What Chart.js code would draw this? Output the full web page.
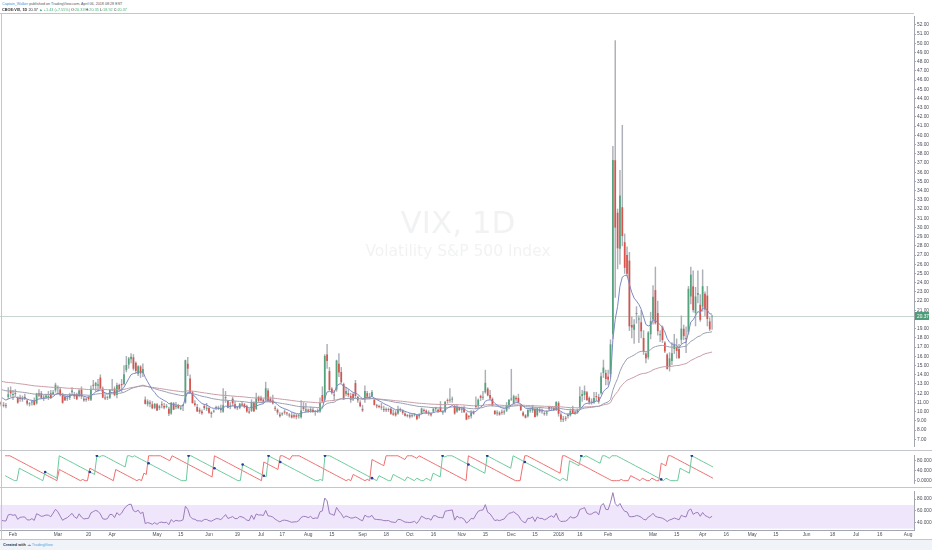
<!DOCTYPE html>
<html><head><meta charset="utf-8">
<script src="https://cdn.jsdelivr.net/npm/chart.js@4/dist/chart.umd.min.js"></script>
<style>
html,body{margin:0;padding:0;background:#fff;width:932px;height:550px;overflow:hidden;font-family:"Liberation Sans",Arial,sans-serif;}
.pane{position:absolute;left:0;width:932px;}
.ln{position:absolute;background:#c3c6cc;z-index:5;}
.txt{position:absolute;white-space:nowrap;transform:scale(0.5);transform-origin:0 0;z-index:6;}
#foot{position:absolute;left:0;top:539px;width:932px;height:11px;background:#f0f3f7;}
</style></head>
<body>
<div class="txt" style="left:2px;top:1px;font-size:7.4px;color:#555"><span style="color:#3d8de0">Captain_Walker</span> published on TradingView.com, April 06, 2018 08:28 EST</div>
<div class="txt" style="left:2px;top:7px;font-size:7.6px;color:#333"><b>CBOE:VIX, 1D</b> 20.37 <span style="color:#4caf7a">▲ +1.43 (+7.55%)</span> O:<span style="color:#4caf7a">20.33</span> H:<span style="color:#4caf7a">20.35</span> L:<span style="color:#4caf7a">18.92</span> C:<span style="color:#4caf7a">20.37</span></div>

<div class="pane" style="top:13px;height:437px"><canvas id="c1"></canvas></div>
<div class="pane" style="top:451px;height:36px"><canvas id="c2"></canvas></div>
<div class="pane" style="top:488px;height:51px"><canvas id="c3"></canvas></div>

<div class="ln" style="left:0;top:13px;width:914px;height:1px"></div>
<div class="ln" style="left:1px;top:13px;width:1px;height:526px"></div>
<div class="ln" style="left:0;top:450px;width:932px;height:1px"></div>
<div class="ln" style="left:0;top:487px;width:932px;height:1px"></div>
<div class="ln" style="left:0;top:539px;width:932px;height:1px"></div>

<div id="foot"></div>
<div class="txt" style="left:3px;top:542px;font-size:7.6px;color:#333"><b>Created with</b> <span style="color:#4aa3df">&#9729; TradingView</span></div>

<script>
// ---------------- data ----------------
const holidays = ['2017-02-20','2017-04-14','2017-05-29','2017-07-04','2017-09-04','2017-11-23','2017-12-25','2018-01-01','2018-01-15','2018-02-19','2018-03-30'];
const firstDate = '2017-01-25', lastDataDate = '2018-04-06', lastAxisDate = '2018-08-03';

// warm-up bars before the visible range (Dec 22 2016 - Jan 24 2017)
const warmHighs  = [11.8,11.7,12.3,13.1,13.9,14.7,14.2,12.8,12.1,11.9,11.9,11.8,12.0,12.6,11.7,12.8,12.8,13.0,12.7,12.1,11.9];
const warmLows   = [11.2,11.0,11.5,12.0,12.7,13.2,12.5,11.6,11.4,11.0,11.2,11.2,10.9,11.2,11.0,11.5,11.7,12.1,11.4,11.4,11.0];
const warmCloses = [11.44,11.44,11.99,12.95,13.37,14.04,12.85,11.85,11.67,11.32,11.56,11.49,11.26,11.54,11.23,11.87,12.48,12.78,11.54,11.77,11.07];

const opens = [
11.0,10.75,10.7,11.6,12.3,
11.8,12.0,11.5,11.5,11.3,11.6,11.2,10.8,11.0,11.2,10.9,12.0,12.0,11.5,11.6,11.6,12.0,11.9,12.3,
12.6,12.4,11.8,11.6,11.4,11.5,12.1,11.9,11.9,11.7,12.4,11.4,11.3,11.6,11.3,12.9,12.8,12.8,13.7,12.5,11.5,11.5,11.5,
12.3,12.5,11.8,12.9,13.0,13.0,14.5,15.1,15.7,15.9,15.3,14.1,14.9,14.2,11.3,10.8,11.0,10.8,10.4,
10.8,10.4,10.8,10.6,10.5,10.3,9.8,10.9,10.5,10.6,10.3,10.6,11.0,15.2,13.6,12.1,10.9,10.5,10.2,10.0,10.6,10.3,
10.4,9.9,10.0,10.4,10.3,10.3,10.0,11.5,11.2,10.5,11.4,10.8,10.4,10.4,10.8,10.8,10.6,10.0,10.1,11.0,10.3,11.6,
11.5,11.3,11.3,12.3,11.4,11.2,10.4,10.2,9.7,9.7,10.0,9.8,9.6,9.6,9.6,9.6,9.5,9.4,10.5,10.1,
10.1,10.1,10.2,10.0,10.1,10.0,11.8,11.3,16.2,14.4,12.5,11.8,12.4,15.2,14.3,13.0,11.9,12.0,11.7,11.9,13.1,11.6,11.0,
10.3,11.3,12.0,11.5,11.7,11.3,10.6,10.6,10.5,10.3,10.2,10.2,10.3,9.8,9.9,9.8,10.2,10.1,9.8,9.6,
9.6,9.5,9.6,9.6,9.5,9.8,10.1,10.1,9.8,9.7,10.0,10.3,10.2,10.5,9.9,10.0,11.2,11.2,11.3,10.6,10.0,10.4,
10.2,10.3,9.8,9.5,9.5,10.0,10.7,10.6,11.7,11.5,12.1,12.5,11.8,11.4,10.1,9.8,9.9,9.9,9.9,10.1,10.7,
11.3,10.9,11.5,11.5,10.7,9.9,9.6,9.5,10.1,10.1,10.3,9.6,10.2,10.0,9.8,9.8,10.5,10.4,10.4,10.2,
10.95,9.7,9.1,9.3,9.6,9.6,10.3,9.9,9.9,10.4,11.7,11.8,12.1,11.5,11.0,11.0,11.6,11.6,12.0,14.2,14.2,
13.8,14.1,18.4,37.3,31.6,27.7,32.2,28.4,27.0,26.4,19.4,18.9,20.6,20.0,19.7,18.0,16.3,15.9,18.4,
20.0,23.2,20.7,18.3,19.2,17.5,16.2,14.9,15.5,16.8,17.0,16.8,17.8,19.0,18.0,18.6,22.5,23.6,20.7,22.7,21.6,
21.4,22.8,22.6,19.8,20.33];
const highs = [
11.1,11.0,10.9,12.6,12.7,
12.3,12.4,11.6,11.8,11.7,11.9,11.3,11.0,11.2,11.5,12.0,12.4,12.2,11.8,11.9,12.2,12.3,12.3,13.1,
12.8,12.6,12.0,11.8,11.8,12.0,12.6,12.1,12.0,12.4,12.7,11.6,11.5,11.7,12.8,13.4,13.2,13.5,14.0,12.7,11.8,11.7,12.4,
13.5,12.7,13.1,13.0,13.5,15.0,16.0,15.9,16.3,16.2,15.4,15.0,15.0,15.2,11.6,11.3,11.2,11.1,10.9,
10.9,10.7,11.1,10.9,10.8,10.5,11.0,11.0,11.0,10.8,10.6,10.8,15.6,15.9,14.0,12.2,11.2,10.8,10.4,10.2,10.8,10.9,
10.5,10.0,10.2,10.6,10.6,10.7,12.5,12.2,11.2,11.0,11.6,11.1,10.5,10.9,11.0,10.9,10.7,10.3,11.3,11.1,12.0,11.7,
11.7,11.4,13.2,12.5,11.6,11.8,10.6,10.3,9.9,9.9,10.2,9.9,9.8,9.9,9.8,9.7,9.7,11.2,11.0,10.9,
10.3,10.5,10.4,10.1,10.3,11.5,12.7,16.2,17.3,14.8,12.6,12.3,15.6,16.3,14.8,13.1,12.6,12.4,12.0,12.0,13.4,11.7,11.2,
10.7,12.8,12.2,12.0,12.3,11.3,10.8,10.7,10.9,10.6,10.4,10.4,10.4,10.2,10.1,10.6,10.4,10.2,9.9,9.7,
9.8,9.7,9.8,9.7,9.8,10.4,10.3,10.2,10.1,9.9,10.4,10.5,10.3,11.1,10.1,11.1,11.4,12.5,11.6,10.7,10.7,10.5,
10.5,10.6,9.9,9.6,10.1,10.1,11.6,11.4,11.8,12.2,14.5,12.6,12.3,11.5,10.1,10.1,10.0,10.2,10.2,11.0,11.3,
14.6,11.8,11.7,11.9,10.8,10.0,9.7,10.3,10.4,10.7,10.4,10.4,10.5,10.3,10.0,10.1,10.6,10.5,10.5,11.1,
11.1,9.9,9.5,9.5,9.8,10.3,10.6,10.1,10.3,12.7,12.3,12.8,12.2,11.6,11.4,12.1,12.1,11.9,14.2,15.6,14.5,
14.5,17.8,38.8,50.3,32.0,36.2,41.1,29.3,27.9,27.3,20.3,20.0,21.4,20.4,21.0,18.8,16.4,18.7,20.8,
23.7,25.7,22.0,18.8,19.3,17.6,16.3,16.4,17.5,18.4,17.9,17.3,20.4,19.4,19.2,23.6,25.7,25.3,23.5,25.3,22.7,
25.4,23.0,23.6,20.2,20.4];
const lows = [
10.63,10.5,10.4,11.4,11.6,
11.3,11.7,10.9,11.1,11.1,11.3,10.7,10.6,10.7,10.7,10.8,11.6,11.4,11.2,11.4,11.3,11.4,11.8,12.1,
11.9,11.7,10.9,11.2,11.2,11.3,11.9,11.4,11.3,11.6,11.4,11.1,11.1,11.2,11.2,12.4,12.2,12.2,12.5,11.5,11.3,11.3,11.4,
12.3,11.7,11.5,12.2,12.1,12.9,14.3,14.7,15.3,14.5,14.2,13.9,13.7,13.8,10.8,10.6,10.5,10.3,10.3,
10.1,10.2,10.4,10.3,10.4,9.56,9.7,10.2,10.3,10.3,10.2,10.1,10.9,13.9,12.0,10.9,10.6,10.0,9.8,9.7,10.2,10.1,
9.8,9.37,9.9,10.2,10.2,9.9,9.9,11.0,10.4,10.3,10.6,10.3,10.2,10.3,10.6,10.4,9.9,9.8,10.0,10.0,10.2,11.0,
11.1,10.9,11.2,11.1,11.0,10.8,10.1,9.7,9.4,9.6,9.7,9.6,9.4,9.3,9.3,9.2,9.3,9.3,10.1,9.9,
9.9,9.9,9.9,9.6,9.9,9.9,11.0,11.2,14.7,12.3,11.9,11.3,12.2,13.8,13.1,11.3,11.7,11.6,11.0,11.2,11.5,11.0,10.5,
10.0,11.0,11.4,11.4,11.6,10.7,10.4,10.4,10.2,10.0,10.0,10.0,9.7,9.6,9.5,9.7,10.0,9.7,9.5,9.4,
9.3,9.4,9.5,9.1,9.3,9.7,9.9,9.8,9.6,9.5,9.9,10.1,9.9,10.0,9.7,9.9,10.9,11.0,11.0,9.7,9.9,10.1,
9.9,9.9,9.1,9.2,9.3,9.7,10.3,10.4,11.2,11.3,12.0,11.7,11.3,10.6,9.7,9.6,9.6,9.7,9.7,10.0,10.3,
11.2,10.8,11.1,10.9,10.1,9.5,9.3,9.4,9.9,9.9,9.4,9.5,9.9,9.8,9.6,9.6,10.1,10.1,10.1,10.1,
9.5,8.9,8.9,9.0,9.3,9.5,9.8,9.7,9.8,10.3,11.1,11.3,11.2,10.8,10.8,10.9,11.2,10.9,11.9,13.7,12.9,
12.9,13.8,17.9,22.4,25.5,26.0,28.0,25.0,24.7,18.8,18.0,17.4,19.6,17.5,18.0,16.2,15.3,15.7,17.9,
19.5,19.5,18.3,17.6,17.5,16.4,14.6,14.4,15.1,16.3,15.8,15.8,17.4,17.8,16.4,18.4,21.7,20.8,19.3,21.8,19.8,
20.9,20.4,19.3,18.8,18.92];
const closes = [
10.81,10.63,10.58,11.88,11.99,
11.81,11.93,10.97,11.37,11.45,11.45,10.88,10.85,11.07,10.74,11.97,11.76,11.49,11.57,11.74,11.71,11.47,12.09,12.92,
12.54,11.81,10.96,11.24,11.45,11.86,12.30,11.66,11.35,12.30,11.63,11.21,11.28,11.34,12.47,12.81,13.12,12.96,12.50,11.53,11.42,11.54,12.37,
12.38,11.79,12.89,12.39,12.87,14.05,15.07,15.77,15.96,14.66,14.42,14.93,14.15,14.63,10.84,11.13,10.85,10.36,10.82,
10.11,10.59,10.68,10.46,10.57,9.77,10.96,10.21,10.60,10.40,10.42,10.65,15.59,14.66,12.04,10.93,10.72,10.02,9.99,9.81,10.38,10.41,
9.89,9.75,10.07,10.45,10.39,10.16,10.70,11.46,10.42,10.64,10.90,10.38,10.37,10.86,10.75,10.48,10.02,9.90,11.06,10.03,11.44,11.18,
11.22,11.07,12.54,11.19,11.11,10.89,10.30,9.90,9.51,9.82,9.89,9.79,9.58,9.36,9.43,9.43,9.60,10.11,10.29,10.26,
10.09,10.28,9.95,10.03,10.00,10.96,11.11,16.04,15.51,12.33,12.04,11.74,15.55,14.26,13.19,11.35,12.25,11.78,11.28,11.32,11.70,11.22,10.59,
10.13,12.23,11.63,11.55,12.12,10.73,10.58,10.50,10.44,10.17,10.15,10.18,9.78,9.67,9.59,10.21,10.17,9.87,9.55,9.51,
9.45,9.51,9.63,9.19,9.65,10.33,10.08,9.85,9.91,9.61,10.31,10.31,10.07,10.05,9.97,11.07,11.16,11.23,11.30,9.80,10.50,10.18,
10.20,9.93,9.14,9.40,9.89,9.78,10.50,11.29,11.50,11.59,13.13,11.76,11.43,10.65,9.73,9.88,9.67,9.87,10.03,10.70,11.28,
11.43,11.68,11.33,11.02,10.16,9.58,9.34,10.18,10.18,10.49,9.42,10.37,10.03,10.03,9.72,9.90,10.25,10.47,10.18,11.04,
9.77,9.15,9.22,9.22,9.52,10.08,9.82,9.88,10.16,11.66,11.91,12.22,11.27,11.03,11.10,11.47,11.58,11.08,13.84,14.79,13.54,
13.47,17.31,37.32,29.98,27.73,33.46,29.06,25.61,24.97,19.26,19.13,19.46,20.60,20.02,18.72,16.49,15.80,18.59,19.85,
22.47,19.59,18.73,18.36,17.76,16.54,14.64,15.78,16.35,17.23,16.59,15.80,19.02,18.20,17.86,23.34,24.87,21.03,22.50,22.87,19.97,
23.62,21.10,20.06,18.94,20.37];

// moving-average starting levels read at the left edge of the picture
const emaPeriods = [10, 50, 100];
const emaStartLevels = [null, 12.4, 13.3];
const rsiPeriod = 14, aroonPeriod = 20;

const priceTicks = []; for (let v = 7; v <= 52; v++) priceTicks.push(v);
const aroonTicks = [0, 40, 80];
const rsiTicks = [40, 60, 80];
const rsiBand = [30, 70];

const tickLabels = [['2017-02-01','Feb'],['2017-03-01','Mar'],['2017-03-20','20'],['2017-04-03','Apr'],['2017-05-01','May'],['2017-05-15','15'],['2017-06-01','Jun'],['2017-06-19','19'],['2017-07-03','Jul'],['2017-07-17','17'],['2017-08-01','Aug'],['2017-08-15','15'],['2017-09-01','Sep'],['2017-09-18','18'],['2017-10-02','Oct'],['2017-10-16','16'],['2017-11-01','Nov'],['2017-11-15','15'],['2017-12-01','Dec'],['2017-12-15','15'],['2018-01-02','2018'],['2018-01-16','16'],['2018-02-01','Feb'],['2018-03-01','Mar'],['2018-03-15','15'],['2018-04-02','Apr'],['2018-04-16','16'],['2018-05-01','May'],['2018-05-15','15'],['2018-06-01','Jun'],['2018-06-18','18'],['2018-07-02','Jul'],['2018-07-16','16'],['2018-08-01','Aug']];

// ---------------- categories ----------------
const dates = [];
{
  const d = new Date(firstDate + 'T00:00:00Z'), end = new Date(lastAxisDate + 'T00:00:00Z');
  while (d <= end) {
    const s = d.toISOString().slice(0, 10), dow = d.getUTCDay();
    if (dow !== 0 && dow !== 6 && !(s <= lastDataDate && holidays.includes(s))) dates.push(s);
    d.setUTCDate(d.getUTCDate() + 1);
  }
}
const N = dates.length, n = closes.length;
const labelMap = Object.fromEntries(tickLabels);
const pad = arr => arr.concat(new Array(N - arr.length).fill(null));

// ---------------- indicators from the bars ----------------
const allC = warmCloses.concat(closes), allH = warmHighs.concat(highs), allL = warmLows.concat(lows), W = warmCloses.length;
function ema(period, start) {
  const a = 2 / (period + 1), out = [];
  if (start == null) {
    let e = allC[0];
    for (let i = 1; i < allC.length; i++) { e += a * (allC[i] - e); if (i >= W) out.push(e); }
    return out;
  }
  let e = start; out.push(e);
  for (let i = 1; i < n; i++) { e += a * (closes[i] - e); out.push(e); }
  return out;
}
const emas = emaPeriods.map((p, k) => ema(p, emaStartLevels[k]));

const rsi = [];
{
  let g = 0, l = 0;
  for (let i = 1; i <= rsiPeriod; i++) { const ch = allC[i] - allC[i - 1]; if (ch > 0) g += ch; else l -= ch; }
  g /= rsiPeriod; l /= rsiPeriod;
  for (let i = rsiPeriod + 1; i < allC.length; i++) {
    const ch = allC[i] - allC[i - 1];
    g = (g * (rsiPeriod - 1) + Math.max(ch, 0)) / rsiPeriod;
    l = (l * (rsiPeriod - 1) + Math.max(-ch, 0)) / rsiPeriod;
    if (i >= W) rsi.push(100 - 100 / (1 + g / l));
  }
}
const aroonUp = [], aroonDn = [];
for (let i = W; i < allC.length; i++) {
  let hi = -1, lo = -1;
  for (let j = i - aroonPeriod; j <= i; j++) {
    if (hi < 0 || allH[j] >= allH[hi]) hi = j;
    if (lo < 0 || allL[j] <= allL[lo]) lo = j;
  }
  aroonUp.push(100 * (aroonPeriod - (i - hi)) / aroonPeriod);
  aroonDn.push(100 * (aroonPeriod - (i - lo)) / aroonPeriod);
}
const crossDots = aroonUp.map((u, i) => {
  if (i === 0) return null;
  const a = Math.sign(aroonUp[i - 1] - aroonDn[i - 1]), b = Math.sign(u - aroonDn[i]);
  return (a !== b && b !== 0) ? u : null;
});

// ---------------- styles ----------------
const UP = '#53a37c', DN = '#d9534c', WICK = '#aeb0b7';
const AXIS = '#a3a6af', TXT = '#4a4e59';
const tickFont = {family: 'Liberation Sans', size: 4.8};
const lastClose = closes[n - 1];

const bodies = pad(opens.map((o, i) => [o, closes[i]]));
const wicks = pad(lows.map((l, i) => [l, highs[i]]));
const bodyColors = opens.map((o, i) => closes[i] >= o ? UP : DN);

function rightAxis(min, max, ticks, digits) {
  return {
    position: 'right', min, max,
    afterFit: s => { s.width = 18; },
    afterBuildTicks: s => { s.ticks = ticks.map(v => ({value: v})); },
    ticks: {font: tickFont, color: TXT, padding: 1, callback: v => Number(v).toFixed(digits)},
    grid: {drawOnChartArea: false, drawTicks: true, tickLength: 2, color: AXIS},
    border: {display: true, color: AXIS}
  };
}
const xHidden = {display: false, offset: true, grid: {display: false}};
const base = {animation: false, responsive: true, maintainAspectRatio: false, devicePixelRatio: 1,
  layout: {padding: 0}, plugins: {legend: {display: false}, tooltip: {enabled: false}}};

const watermark = {
  id: 'watermark',
  beforeDatasetsDraw(c) {
    const {ctx, chartArea: a} = c, cx = (a.left + a.right) / 2 + 1, cy = (a.top + a.bottom) / 2;
    ctx.save(); ctx.fillStyle = 'rgba(150,155,166,0.13)'; ctx.textAlign = 'center'; ctx.textBaseline = 'middle';
    ctx.font = '31px "DejaVu Sans"'; ctx.fillText('VIX, 1D', cx, cy - 7);
    ctx.font = '15.5px "DejaVu Sans"'; ctx.fillText('Volatility S&P 500 Index', cx, cy + 20);
    ctx.restore();
  }
};
const priceLine = {
  id: 'priceLine',
  beforeDatasetsDraw(c) {
    const {ctx, chartArea: a} = c, y = Math.round(c.scales.y.getPixelForValue(lastClose)) + 0.5;
    ctx.save(); ctx.strokeStyle = '#c9d6cf'; ctx.lineWidth = 1;
    ctx.beginPath(); ctx.moveTo(a.left, y); ctx.lineTo(a.right, y); ctx.stroke(); ctx.restore();
  },
  afterDraw(c) {
    const {ctx, chartArea: a} = c, y = Math.round(c.scales.y.getPixelForValue(lastClose));
    ctx.save(); ctx.fillStyle = '#4e9d78'; ctx.fillRect(a.right + 1, y - 4, 14, 8);
    ctx.fillStyle = '#fff'; ctx.font = '4.8px "Liberation Sans"'; ctx.textBaseline = 'middle';
    ctx.fillText(lastClose.toFixed(2), a.right + 3, y + 0.5); ctx.restore();
  }
};
const band = {
  id: 'band',
  beforeDatasetsDraw(c) {
    const {ctx, chartArea: a} = c, y1 = c.scales.y.getPixelForValue(rsiBand[1]), y0 = c.scales.y.getPixelForValue(rsiBand[0]);
    ctx.save(); ctx.fillStyle = '#efe6fb'; ctx.fillRect(a.left, y1, a.right - a.left, y0 - y1); ctx.restore();
  }
};

const lineDs = (data, color, order) => ({type: 'line', data: pad(data), borderColor: color, borderWidth: 1, pointRadius: 0, tension: 0, order});

new Chart(document.getElementById('c1'), {
  type: 'bar',
  data: {labels: dates, datasets: [
    lineDs(emas[0], '#7d89c2', 1),
    lineDs(emas[1], '#9aa0b2', 1),
    lineDs(emas[2], '#c99ca6', 1),
    {data: bodies, backgroundColor: bodyColors, grouped: false, barPercentage: 0.72, categoryPercentage: 1, minBarLength: 1, order: 2},
    {data: wicks, backgroundColor: WICK, grouped: false, barThickness: 0.8, order: 3}
  ]},
  options: Object.assign({}, base, {scales: {
    x: xHidden,
    y: rightAxis(6.253, 52.867, priceTicks.filter(v => Math.abs(v - lastClose) > 0.6), 2)
  }}),
  plugins: [watermark, priceLine]
});

new Chart(document.getElementById('c2'), {
  type: 'line',
  data: {labels: dates, datasets: [
    {data: pad(crossDots), showLine: false, pointRadius: 1.3, pointBackgroundColor: '#2b3a9a', pointBorderWidth: 0, order: 0},
    lineDs(aroonUp, '#6cc99c', 1),
    lineDs(aroonDn, '#ef6f6f', 1)
  ]},
  options: Object.assign({}, base, {scales: {x: xHidden, y: rightAxis(-9.4, 103.1, aroonTicks, 4)}})
});

new Chart(document.getElementById('c3'), {
  type: 'line',
  data: {labels: dates, datasets: [lineDs(rsi, '#9b7bbb', 1)]},
  options: Object.assign({}, base, {scales: {
    x: {offset: true, grid: {display: false, drawTicks: false, tickLength: 0}, border: {display: true, color: AXIS},
        afterFit: s => { s.height = 9; },
        afterBuildTicks: s => { s.ticks = s.ticks.filter(t => labelMap[dates[t.value]]); },
        ticks: {autoSkip: false, maxRotation: 0, font: tickFont, color: TXT, padding: 2, callback: v => labelMap[dates[v]]}},
    y: rightAxis(27.7, 92.3, rsiTicks, 4)
  }}),
  plugins: [band]
});
</script>
</body></html>
